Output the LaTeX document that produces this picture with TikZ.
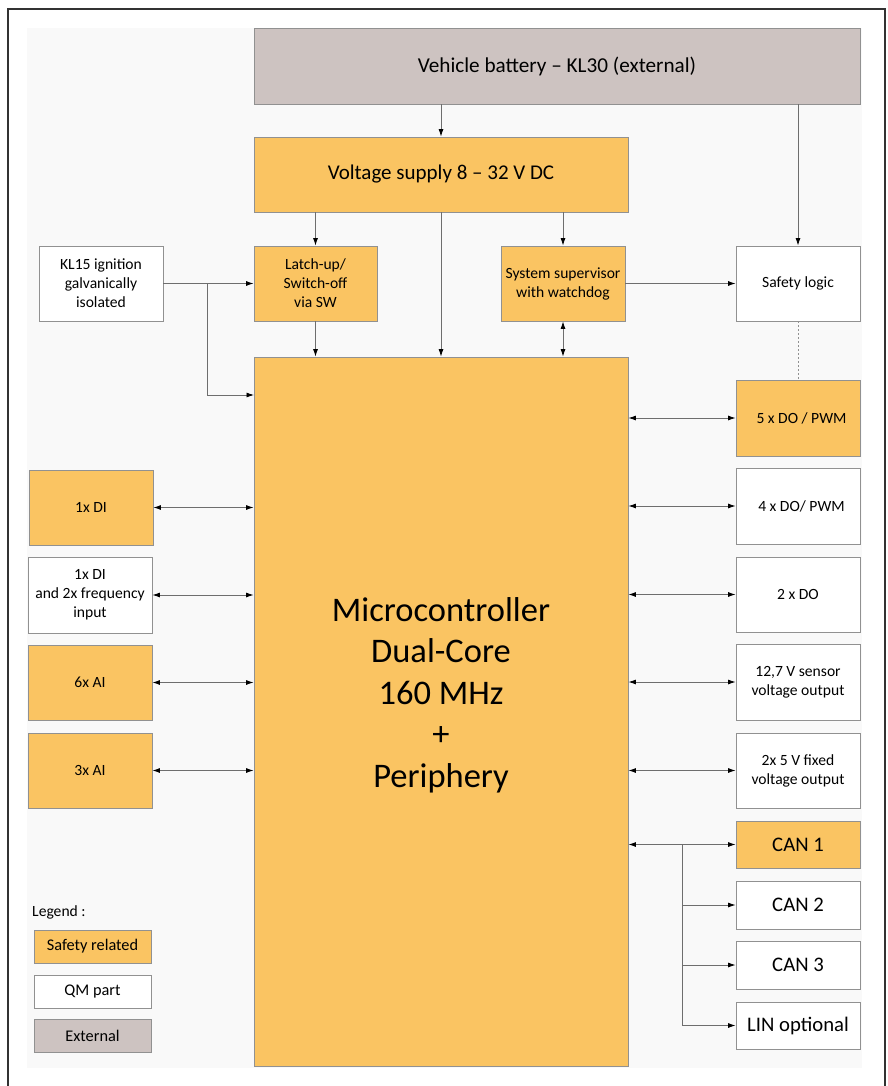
\documentclass[tikz,border=0pt]{standalone}
\usepackage{fontspec}
\setmainfont{Carlito}
\usetikzlibrary{arrows.meta}
\definecolor{safe}{RGB}{250,196,98}
\definecolor{ext}{RGB}{205,195,193}
\definecolor{bord}{RGB}{145,145,145}
\definecolor{conn}{RGB}{110,110,110}
\definecolor{bgc}{RGB}{249,249,249}
\newcommand{\fs}[2]{\fontsize{#1}{#2}\selectfont}
\tikzset{
  box/.style={draw=bord, line width=0.9pt, inner sep=1pt, align=center, text=black, font=\fs{15.6}{19}},
  sbox/.style={box, fill=safe},
  qbox/.style={box, fill=white},
  ebox/.style={box, fill=ext},
  conn/.style={draw=conn, line width=0.8pt},
  arr/.style={conn, -{Latex[length=7.5pt,width=5pt,color=black]}},
  darr/.style={conn, {Latex[length=7.5pt,width=5pt,color=black]}-{Latex[length=7.5pt,width=5pt,color=black]}},
  dotl/.style={draw=bord, line width=0.7pt, dash pattern=on 2pt off 2pt},
}
\begin{document}
\begin{tikzpicture}[x=1pt,y=-1pt]
\useasboundingbox (0,0) rectangle (887,1086);
\fill[white] (0,0) rectangle (887,1086);
\draw[line width=1.3pt, draw={rgb,255:red,50;green,50;blue,50}] (8,1090) -- (8,9) -- (885,9) -- (885,1090);
\fill[bgc] (27,28) rectangle (862,1068);

% top
\node[ebox, minimum width=606, minimum height=76, font=\fs{21.2}{26}] (bat) at (557,66) {Vehicle battery -- KL30 (external)};
\node[sbox, minimum width=374, minimum height=75, font=\fs{21}{24}] (vs) at (441,174.5) {Voltage supply 8 -- 32 V DC};
\node[sbox, minimum width=123, minimum height=75] (latch) at (315.5,283.5) {Latch-up/\\Switch-off\\via SW};
\node[sbox, minimum width=124, minimum height=75, font=\fs{15.6}{19}] (sup) at (563,283.5) {System supervisor\\with watchdog};
\node[qbox, minimum width=124, minimum height=75] (safel) at (798,283.5) {Safety logic};
\node[qbox, minimum width=124, minimum height=75] (kl) at (101,283.5) {KL15 ignition\\galvanically\\isolated};

% MCU
\node[sbox, minimum width=374, minimum height=709] (mcu) at (441,711.5) {};
\node[align=center, inner sep=0pt, font=\fs{34.5}{41.5}] (mcut) at (441,695) {Microcontroller\\Dual-Core\\160 MHz\\+\\Periphery};

% right
\node[sbox, minimum width=124, minimum height=76] (do5) at (798,418) {\hspace*{7pt}5 x DO / PWM};
\node[qbox, minimum width=124, minimum height=76] (do4) at (798,506) {\hspace*{7pt}4 x DO/ PWM};
\node[qbox, minimum width=124, minimum height=75] (do2) at (798,594.5) {2 x DO};
\node[qbox, minimum width=124, minimum height=76] (sens) at (798,682) {12,7 V sensor\\voltage output};
\node[qbox, minimum width=124, minimum height=75] (v5) at (798,770.5) {2x 5 V fixed\\voltage output};
\node[sbox, minimum width=124, minimum height=47, font=\fs{20.7}{24}] (can1) at (798,844.5) {CAN 1};
\node[qbox, minimum width=124, minimum height=48, font=\fs{20.7}{24}] (can2) at (798,905) {CAN 2};
\node[qbox, minimum width=124, minimum height=48, font=\fs{20.7}{24}] (can3) at (798,965) {CAN 3};
\node[qbox, minimum width=124, minimum height=47, font=\fs{20.7}{24}] (lin) at (798,1025.5) {LIN optional};

% left
\node[sbox, minimum width=124, minimum height=75] (di1) at (91,507.5) {1x DI};
\node[qbox, minimum width=124, minimum height=76] (difr) at (90,595) {1x DI\\and 2x frequency\\input};
\node[sbox, minimum width=124, minimum height=75] (ai6) at (90,682.5) {6x AI};
\node[sbox, minimum width=124, minimum height=75] (ai3) at (90,770.5) {3x AI};

% legend
\node[anchor=west, inner sep=0pt, font=\fs{15.6}{18}] (legt) at (32,912) {Legend :};
\node[sbox, minimum width=117, minimum height=33, font=\fs{16.3}{19}] (leg1) at (92.5,946.5) {Safety related};
\node[qbox, minimum width=117, minimum height=33, font=\fs{16.3}{19}] (leg2) at (92.5,991.5) {QM part};
\node[ebox, minimum width=117, minimum height=33, font=\fs{16.3}{19}] (leg3) at (92.5,1035.5) {External};

% connectors top
\draw[arr] (bat.south -| vs.north) -- (vs.north);
\draw[arr] (bat.south -| safel.north) -- (safel.north);
\draw[arr] (vs.south -| latch.north) -- (latch.north);
\draw[arr] (vs.south) -- (mcu.north);
\draw[arr] (vs.south -| sup.north) -- (sup.north);
\draw[arr] (latch.south) -- (latch.south |- mcu.north);
\draw[darr] (sup.south) -- (sup.south |- mcu.north);
\draw[arr] (sup.east) -- (safel.west);
\draw[arr] (kl.east) -- (latch.west);
\coordinate (kbr) at (207,283.5);
\coordinate (kmcu) at (254,395);
\draw[arr] (kbr) |- (kmcu);
\draw[dotl] (safel.south) -- (do5.north);

% right connectors
\foreach \n in {do5,do4,do2,sens,v5,can1}{
  \draw[darr] (mcu.east |- \n.west) -- (\n.west);
}
\coordinate (cbr) at (682,844.5);
\foreach \n in {can2,can3,lin}{
  \draw[arr] (cbr) |- (\n.west);
}
% left connectors
\foreach \n in {di1,difr,ai6,ai3}{
  \draw[darr] (\n.east) -- (\n.east -| mcu.west);
}
\end{tikzpicture}
\end{document}
